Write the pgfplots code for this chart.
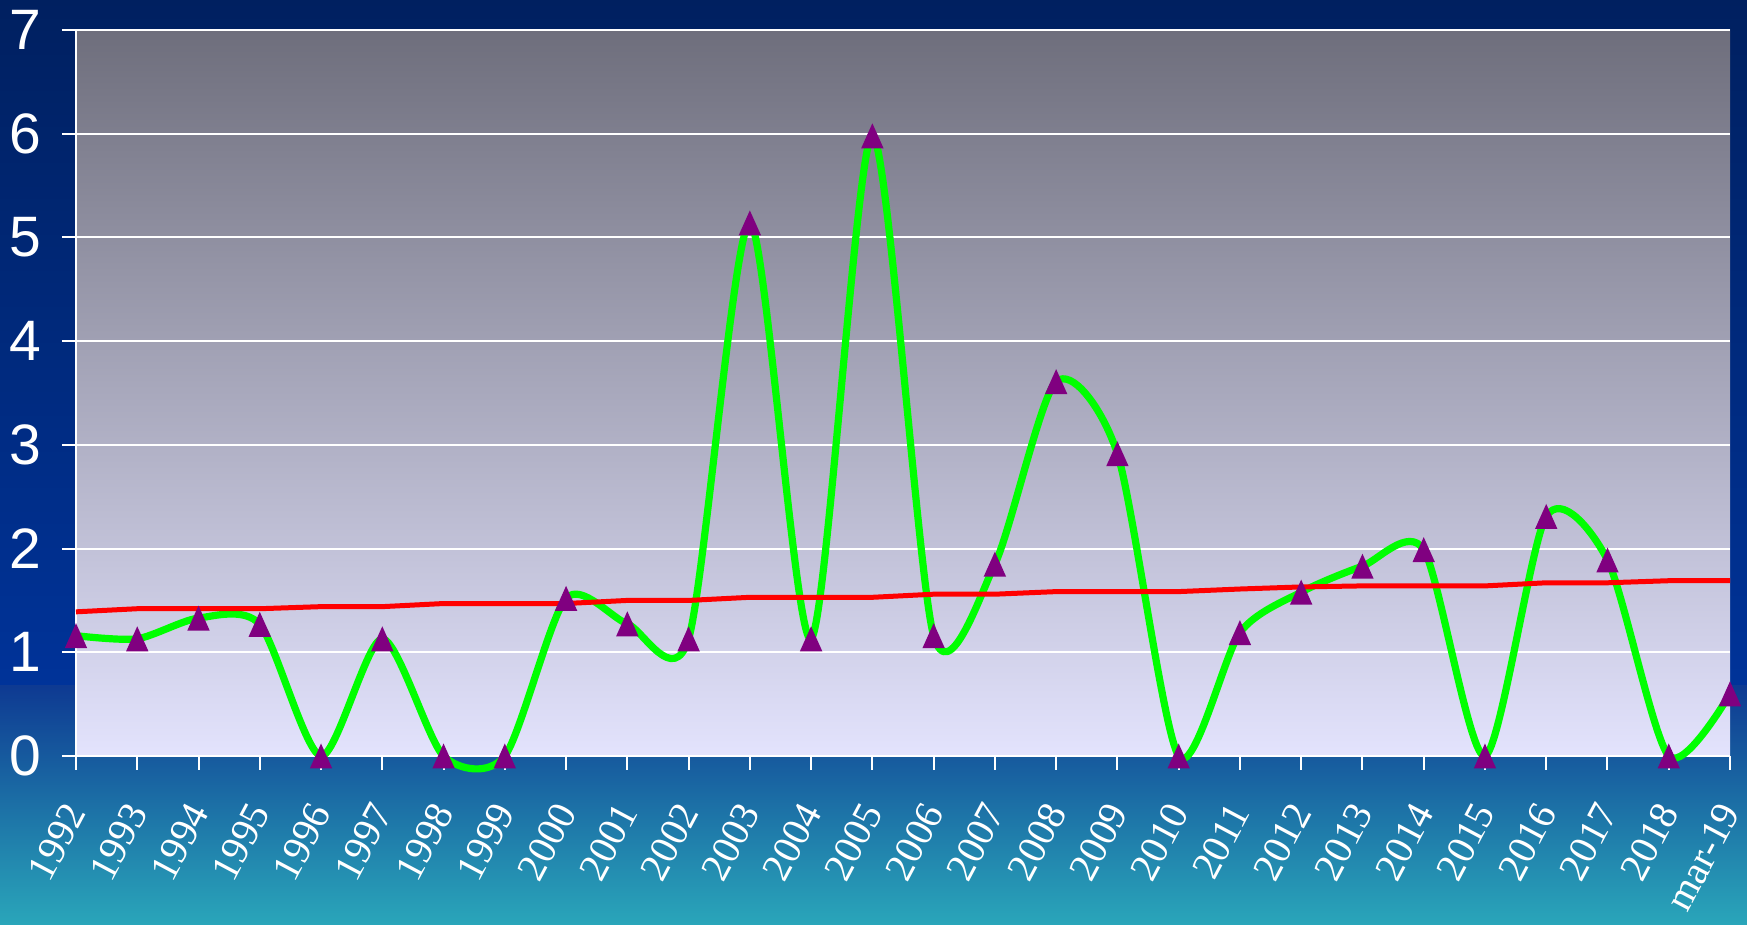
\documentclass[border=0pt]{standalone}
\usepackage{fontspec}
\setmainfont{Liberation Serif}
\newfontfamily\arialf{Liberation Sans}
\usepackage{pgfplots}
\usepackage{pgfplotstable}
\pgfplotsset{compat=1.18}
\definecolor{navytop}{RGB}{0,32,96}
\definecolor{navymid}{RGB}{0,51,153}
\definecolor{lowtop}{RGB}{14,58,146}
\definecolor{lowbot}{RGB}{42,166,186}
\definecolor{plottop}{RGB}{110,110,124}
\definecolor{plotbot}{RGB}{227,227,253}
\definecolor{lgreen}{RGB}{0,255,0}
\definecolor{lred}{RGB}{255,0,0}
\definecolor{lpurple}{RGB}{128,0,128}
\pgfdeclareplotmark{tri}{%
  \pgfpathmoveto{\pgfqpoint{0pt}{6.25pt}}%
  \pgfpathlineto{\pgfqpoint{-5.6pt}{-6.25pt}}%
  \pgfpathlineto{\pgfqpoint{5.6pt}{-6.25pt}}%
  \pgfpathclose\pgfusepathqfill}
\pgfplotstableread{
x g r
0 1.16 1.39
1 1.13 1.42
2 1.33 1.42
3 1.27 1.42
4 0 1.44
5 1.13 1.44
6 0 1.47
7 0 1.47
8 1.52 1.47
9 1.275 1.50
10 1.13 1.50
11 5.14 1.53
12 1.13 1.53
13 5.98 1.53
14 1.16 1.56
15 1.85 1.56
16 3.61 1.585
17 2.915 1.585
18 0 1.585
19 1.19 1.61
20 1.58 1.63
21 1.83 1.64
22 1.99 1.64
23 0 1.64
24 2.31 1.67
25 1.89 1.67
26 0 1.69
27 0.60 1.69
}\data
\begin{document}
\begin{tikzpicture}
\useasboundingbox (0,0) rectangle (873.5pt,462.5pt);
\shade[top color=navytop,bottom color=navymid] (0,119.5pt) rectangle (873.5pt,462.5pt);
\shade[top color=lowtop,bottom color=lowbot] (0,0) rectangle (873.5pt,119.5pt);
\begin{axis}[
  at={(38pt,84.5pt)}, anchor=south west,
  scale only axis, width=827pt, height=363pt,
  xmin=0, xmax=27, ymin=0, ymax=7,
  clip=false,
  axis lines=left,
  axis line style={-, white, line width=1pt},
  axis background/.style={top color=plottop, bottom color=plotbot},
  ymajorgrids, major grid style={white, line width=1pt},
  xtick={0,...,27}, ytick={0,...,7},
  xticklabels={1992,1993,1994,1995,1996,1997,1998,1999,2000,2001,2002,2003,2004,2005,2006,2007,2008,2009,2010,2011,2012,2013,2014,2015,2016,2017,2018,mar-19},
  tick align=outside,
  major tick length=7pt,
  tick style={white, line width=1pt},
  /pgf/number format/assume math mode=true,
  yticklabel style={font=\arialf\fontsize{28.5}{30}\selectfont, text=white, anchor=east, inner sep=0pt},
  yticklabel shift=10pt,
  xticklabel style={font=\fontsize{20}{21}\selectfont, text=white, rotate=62, anchor=east, inner sep=0pt},
  xticklabel shift=18pt,
]
\addplot[lgreen, line width=3.6pt, smooth, tension=0.45, line join=round] table[x=x,y=g]{\data};
\addplot[lred, line width=2.5pt, line join=round] table[x=x,y=r]{\data};
\addplot[only marks, mark=tri, lpurple] table[x=x,y=g]{\data};
\end{axis}
\end{tikzpicture}
\end{document}
